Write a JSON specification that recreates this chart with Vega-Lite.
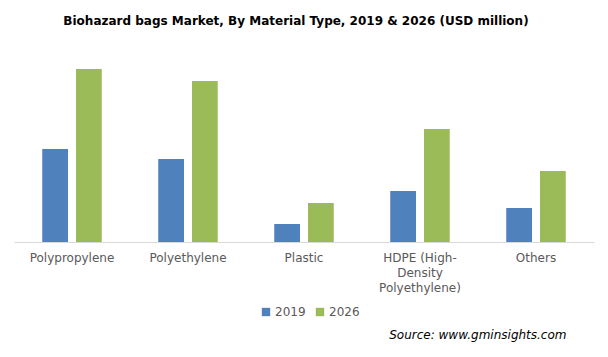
{
  "$schema": "https://vega.github.io/schema/vega-lite/v6.json",
  "width": 580,
  "height": 182,
  "autosize": {"type": "none"},
  "padding": {"left": 14, "top": 60, "right": 14, "bottom": 115},
  "background": "white",
  "title": {
    "text": "Biohazard bags Market, By Material Type, 2019 & 2026 (USD million)",
    "font": "DejaVu Sans",
    "fontSize": 12,
    "fontWeight": "bold",
    "color": "#000000",
    "anchor": "middle",
    "frame": "group",
    "offset": 32,
    "dx": -8
  },
  "data": {
    "values": [
      {"material": "Polypropylene", "year": "2019", "value": 93},
      {"material": "Polypropylene", "year": "2026", "value": 173},
      {"material": "Polyethylene", "year": "2019", "value": 83},
      {"material": "Polyethylene", "year": "2026", "value": 161},
      {"material": "Plastic", "year": "2019", "value": 18},
      {"material": "Plastic", "year": "2026", "value": 39},
      {"material": "HDPE (High-Density Polyethylene)", "year": "2019", "value": 51},
      {"material": "HDPE (High-Density Polyethylene)", "year": "2026", "value": 113},
      {"material": "Others", "year": "2019", "value": 34},
      {"material": "Others", "year": "2026", "value": 71}
    ]
  },
  "mark": {"type": "bar"},
  "encoding": {
    "x": {
      "field": "material",
      "type": "nominal",
      "sort": null,
      "scale": {"paddingInner": 0.487, "paddingOuter": 0.2435},
      "axis": {
        "title": "Source: www.gminsights.com",
        "titleFont": "DejaVu Sans",
        "titleFontSize": 12,
        "titleFontStyle": "italic",
        "titleFontWeight": "normal",
        "titleColor": "#000000",
        "titleAnchor": "end",
        "titleAlign": "right",
        "titleBaseline": "alphabetic",
        "titleX": 552,
        "titleY": 96,
        "labelAngle": 0,
        "labelFont": "DejaVu Sans",
        "labelFontSize": 12,
        "labelColor": "#595959",
        "labelPadding": 10,
        "labelLineHeight": 15,
        "labelExpr": "datum.value == 'HDPE (High-Density Polyethylene)' ? ['HDPE (High-', 'Density', 'Polyethylene)'] : datum.label",
        "ticks": false,
        "domainColor": "#d9d9d9",
        "domainWidth": 1,
        "grid": false
      }
    },
    "xOffset": {
      "field": "year",
      "type": "nominal",
      "scale": {"paddingInner": 0.237, "paddingOuter": 0}
    },
    "y": {
      "field": "value",
      "type": "quantitative",
      "scale": {"domain": [0, 182], "nice": false},
      "axis": null
    },
    "color": {
      "field": "year",
      "type": "nominal",
      "scale": {"domain": ["2019", "2026"], "range": ["#4F81BD", "#9BBB59"]},
      "legend": {
        "title": null,
        "orient": "none",
        "direction": "horizontal",
        "legendX": 246,
        "legendY": 246,
        "symbolType": "square",
        "symbolSize": 70,
        "symbolStrokeWidth": 0,
        "labelFont": "DejaVu Sans",
        "labelFontSize": 12,
        "labelColor": "#595959",
        "columnPadding": 8,
        "labelOffset": 3
      }
    }
  },
  "config": {"view": {"stroke": null}}
}
